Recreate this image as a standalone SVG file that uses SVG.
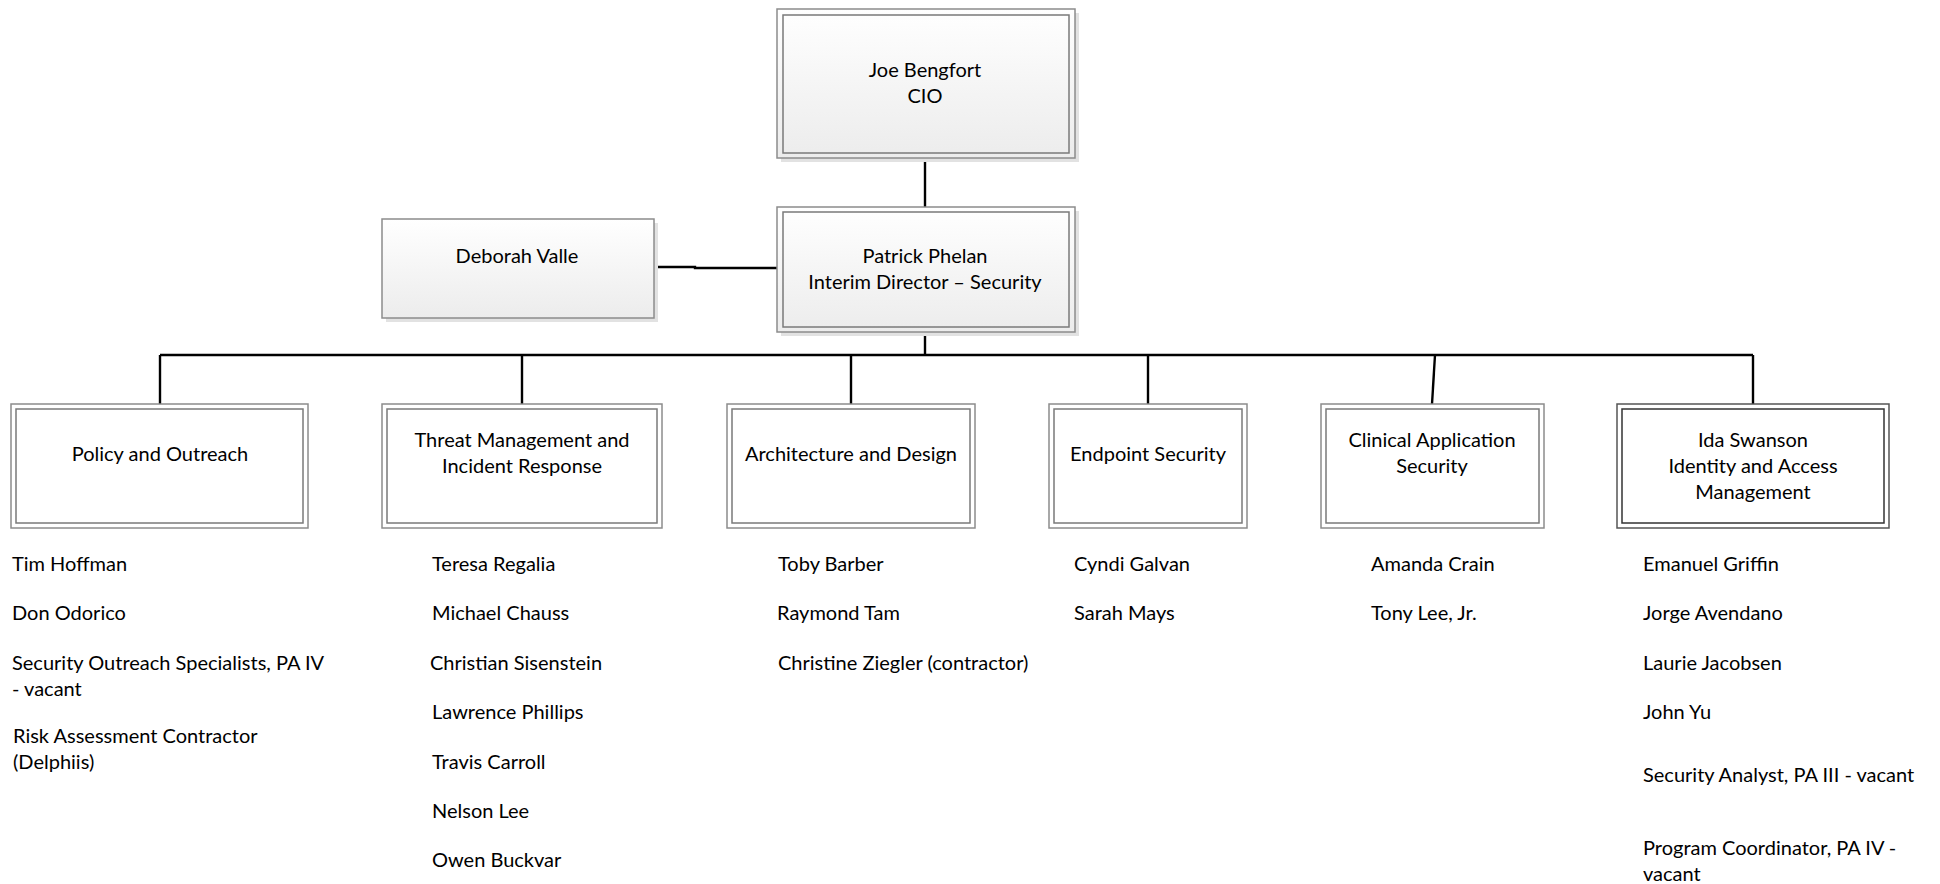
<svg xmlns="http://www.w3.org/2000/svg" width="1940" height="884" viewBox="0 0 1940 884">
<defs>
<linearGradient id="g" x1="0" y1="0" x2="0" y2="1">
<stop offset="0" stop-color="#ffffff"/>
<stop offset="1" stop-color="#ececec"/>
</linearGradient>
<style>
text{font-family:Lato,"Liberation Sans",sans-serif;font-size:20px;fill:#000}
.c{text-anchor:middle}
.sh{fill:#e2e2e2}
.o{fill:#ffffff;stroke:#8c8c8c;stroke-width:1.5}
.og{fill:url(#g);stroke:#8c8c8c;stroke-width:1.5}
.i{fill:none;stroke:#7a7a7a;stroke-width:1.5}
.od{fill:#ffffff;stroke:#555;stroke-width:1.5}
.id{fill:none;stroke:#333;stroke-width:1.5}
.ln{stroke:#000;stroke-width:2.4;fill:none}
</style>
</defs>
<rect width="1940" height="884" fill="#fff"/>
<g id="connectors">
<path class="ln" d="M925 158V207"/>
<path class="ln" d="M654 267H695V268H777"/>
<path class="ln" d="M925 332V355"/>
<path class="ln" d="M160 355H1753"/>
<path class="ln" d="M160 355V404"/>
<path class="ln" d="M522 355V404"/>
<path class="ln" d="M851 355V404"/>
<path class="ln" d="M1148 355V404"/>
<path class="ln" d="M1435 355L1432 404"/>
<path class="ln" d="M1753 355V404"/>
</g>
<g id="cio">
<rect class="sh" x="781" y="13" width="298" height="149"/>
<rect class="og" x="777" y="9" width="298" height="149"/>
<rect class="i" x="783" y="15" width="286" height="138"/>
<text class="c" x="925" y="77">Joe Bengfort</text>
<text class="c" x="925" y="103">CIO</text>
</g>
<g id="patrick">
<rect class="sh" x="781" y="211" width="298" height="125"/>
<rect class="og" x="777" y="207" width="298" height="125"/>
<rect class="i" x="783" y="212" width="286" height="115"/>
<text class="c" x="925" y="263">Patrick Phelan</text>
<text class="c" x="925" y="289">Interim Director – Security</text>
</g>
<g id="deborah">
<rect class="sh" x="386" y="223" width="272" height="99"/>
<rect class="og" x="382" y="219" width="272" height="99"/>
<text class="c" x="517" y="263">Deborah Valle</text>
</g>
<g id="policy">
<rect class="o" x="11" y="404" width="297" height="124"/>
<rect class="i" x="16" y="409" width="287" height="114"/>
<text class="c" x="160" y="461">Policy and Outreach</text>
</g>
<g id="threat">
<rect class="o" x="382" y="404" width="280" height="124"/>
<rect class="i" x="387" y="409" width="270" height="114"/>
<text class="c" x="522" y="447">Threat Management and</text>
<text class="c" x="522" y="473">Incident Response</text>
</g>
<g id="arch">
<rect class="o" x="727" y="404" width="248" height="124"/>
<rect class="i" x="732" y="409" width="238" height="114"/>
<text class="c" x="851" y="461">Architecture and Design</text>
</g>
<g id="endpoint">
<rect class="o" x="1049" y="404" width="198" height="124"/>
<rect class="i" x="1054" y="409" width="188" height="114"/>
<text class="c" x="1148" y="461">Endpoint Security</text>
</g>
<g id="clinical">
<rect class="o" x="1321" y="404" width="223" height="124"/>
<rect class="i" x="1326" y="409" width="213" height="114"/>
<text class="c" x="1432" y="447">Clinical Application</text>
<text class="c" x="1432" y="473">Security</text>
</g>
<g id="ida">
<rect class="od" x="1617" y="404" width="272" height="124"/>
<rect class="id" x="1622" y="409" width="262" height="114"/>
<text class="c" x="1753" y="447">Ida Swanson</text>
<text class="c" x="1753" y="473">Identity and Access</text>
<text class="c" x="1753" y="499">Management</text>
</g>
<g id="list-policy">
<text x="12" y="571">Tim Hoffman</text>
<text x="12" y="620">Don Odorico</text>
<text x="12" y="670">Security Outreach Specialists, PA IV</text>
<text x="12" y="696">- vacant</text>
<text x="13" y="743">Risk Assessment Contractor</text>
<text x="13" y="769">(Delphiis)</text>
</g>
<g id="list-threat">
<text x="432" y="571">Teresa Regalia</text>
<text x="432" y="620">Michael Chauss</text>
<text x="430" y="670">Christian Sisenstein</text>
<text x="432" y="719">Lawrence Phillips</text>
<text x="432" y="769">Travis Carroll</text>
<text x="432" y="818">Nelson Lee</text>
<text x="432" y="867">Owen Buckvar</text>
</g>
<g id="list-arch">
<text x="778" y="571">Toby Barber</text>
<text x="777" y="620">Raymond Tam</text>
<text x="778" y="670">Christine Ziegler (contractor)</text>
</g>
<g id="list-endpoint">
<text x="1074" y="571">Cyndi Galvan</text>
<text x="1074" y="620">Sarah Mays</text>
</g>
<g id="list-clinical">
<text x="1371" y="571">Amanda Crain</text>
<text x="1371" y="620">Tony Lee, Jr.</text>
</g>
<g id="list-ida">
<text x="1643" y="571">Emanuel Griffin</text>
<text x="1643" y="620">Jorge Avendano</text>
<text x="1643" y="670">Laurie Jacobsen</text>
<text x="1643" y="719">John Yu</text>
<text x="1643" y="782">Security Analyst, PA III - vacant</text>
<text x="1643" y="855">Program Coordinator, PA IV -</text>
<text x="1643" y="881">vacant</text>
</g>
</svg>
